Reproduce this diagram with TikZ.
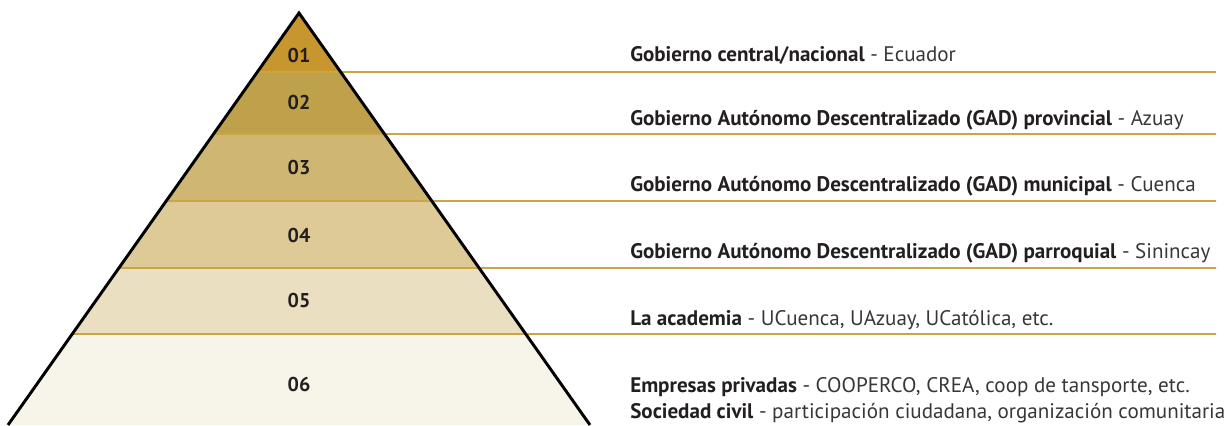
\documentclass[tikz,border=0pt]{standalone}
\usepackage{fontspec}
\setmainfont{PT Sans}
\usetikzlibrary{calc}
\definecolor{c1}{HTML}{C8962F}
\definecolor{c2}{HTML}{BFA04B}
\definecolor{c3}{HTML}{CFB672}
\definecolor{c4}{HTML}{DECA96}
\definecolor{c5}{HTML}{EADFC1}
\definecolor{c6}{HTML}{F7F4E9}
\definecolor{gline}{HTML}{C9A545}
\definecolor{txt}{HTML}{231F20}
\definecolor{txtl}{HTML}{3A3637}
\begin{document}
\begin{tikzpicture}[x=0.75pt,y=-0.75pt,
  num/.style={font=\bfseries\fontsize{15}{17}\selectfont, text=txt, inner sep=0pt},
  lbl/.style={anchor=base west, font=\fontsize{15.8}{18}\selectfont, text=txtl, inner sep=0pt},
  sep/.style={draw=gline, line width=1.3pt}]
\useasboundingbox (0,0) rectangle (1224,425);
% pyramid geometry: apex (299,13), base (8,425)-(590,425)
\coordinate (apex) at (299,13);
\coordinate (bl) at (8,425);
\coordinate (br) at (590,425);
\foreach \i/\y in {1/72,2/134,3/201,4/268,5/334}{
  \coordinate (L\i) at ($(apex)!{(\y-13)/412}!(bl)$);
  \coordinate (R\i) at ($(apex)!{(\y-13)/412}!(br)$);
}
\fill[c1] (apex) -- (L1) -- (R1) -- cycle;
\fill[c2] (L1) -- (L2) -- (R2) -- (R1) -- cycle;
\fill[c3] (L2) -- (L3) -- (R3) -- (R2) -- cycle;
\fill[c4] (L3) -- (L4) -- (R4) -- (R3) -- cycle;
\fill[c5] (L4) -- (L5) -- (R5) -- (R4) -- cycle;
\fill[c6] (L5) -- (bl) -- (br) -- (R5) -- cycle;
\foreach \i/\y in {1/72,2/134,3/201,4/268,5/334}{
  \coordinate (E\i) at (1216,\y);
  \draw[sep] (L\i) -- (E\i);
}
\draw[black, line width=2.2pt, line join=miter] (bl) -- (apex) -- (br);
% numbers
\node[num] (n1) at (299,55) {01};
\node[num] (n2) at (299,102) {02};
\node[num] (n3) at (299,167) {03};
\node[num] (n4) at (299,235) {04};
\node[num] (n5) at (299,300) {05};
\node[num] (n6) at (299,384) {06};
% labels
\node[lbl] (t1) at (630,61) {\textbf{\color{txt}Gobierno central/nacional} - Ecuador};
\node[lbl] (t2) at (630,125) {\textbf{\color{txt}Gobierno Autónomo Descentralizado (GAD) provincial} - Azuay};
\node[lbl] (t3) at (630,191) {\textbf{\color{txt}Gobierno Autónomo Descentralizado (GAD) municipal} - Cuenca};
\node[lbl] (t4) at (630,258) {\textbf{\color{txt}Gobierno Autónomo Descentralizado (GAD) parroquial} - Sinincay};
\node[lbl] (t5) at (630,325) {\textbf{\color{txt}La academia} - UCuenca, UAzuay, UCatólica, etc.};
\node[lbl] (t6) at (630,392) {\textbf{\color{txt}Empresas privadas} - COOPERCO, CREA, coop de tansporte, etc.};
\node[lbl] (t7) at (630,418) {\textbf{\color{txt}Sociedad civil} - participación ciudadana, organización comunitaria};
\end{tikzpicture}
\end{document}
